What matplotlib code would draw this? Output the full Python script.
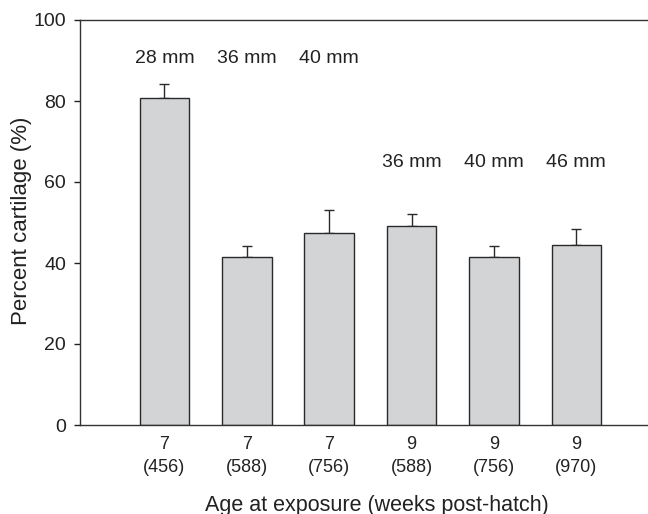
import matplotlib
matplotlib.use("Agg")
import matplotlib.pyplot as plt
import numpy as np

plt.rcParams['font.family'] = ['Liberation Sans', 'DejaVu Sans']

weeks = ["7", "7", "7", "9", "9", "9"]
degree_days = ["456", "588", "756", "588", "756", "970"]
values = [80.7, 41.6, 47.5, 49.2, 41.5, 44.4]
errors = [3.5, 2.7, 5.6, 3.0, 2.8, 3.9]
size_labels = ["28 mm", "36 mm", "40 mm", "36 mm", "40 mm", "46 mm"]
size_label_y = [90.5, 90.5, 90.5, 64.8, 64.8, 64.8]

tick_labels = [f"{w}\n({d})" for w, d in zip(weeks, degree_days)]
x = np.arange(len(values))

fig = plt.figure(figsize=(6.48, 5.14), dpi=100)
ax = fig.add_axes([80/648, 1 - 425/514, 1 - 80/648, (425 - 20)/514])

edge = "#2a2a2a"
ax.bar(x, values, width=0.6, color="#d3d4d6", edgecolor=edge, linewidth=1.0, zorder=2)
ax.errorbar(x, values, yerr=[np.zeros(len(errors)), errors], fmt="none",
            ecolor=edge, elinewidth=1.0, capsize=3.3, capthick=1.0, zorder=1)

for xi, lab, ly in zip(x, size_labels, size_label_y):
    ax.text(xi, ly, lab, ha="center", va="center", fontsize=14, color="#222222")

ax.set_xlim(-1.025, 5.87)
ax.set_ylim(0, 100)
ax.set_yticks([0, 20, 40, 60, 80, 100])
ax.set_xticks(x)
ax.set_xticklabels(tick_labels, fontsize=13, linespacing=1.45, color="#222222")
ax.tick_params(axis="x", length=0, pad=8)
ax.tick_params(axis="y", length=4, width=1, direction="out", labelsize=14,
               colors="#222222", pad=6)

for s in ["left", "bottom", "top"]:
    ax.spines[s].set_color("#333333")
    ax.spines[s].set_linewidth(1.0)
ax.spines["right"].set_visible(False)

ax.set_ylabel("Percent cartilage (%)", fontsize=16, color="#222222")
ax.yaxis.set_label_coords(-(80 - 32) / 568, (425 - 221) / 405)
ax.set_xlabel("Age at exposure (weeks post-hatch)", fontsize=15.5, color="#222222",
              va="center")
ax.xaxis.set_label_coords((376.5 - 80) / 568, -(505 - 425) / 405)

fig.savefig("out.png", dpi=100)
